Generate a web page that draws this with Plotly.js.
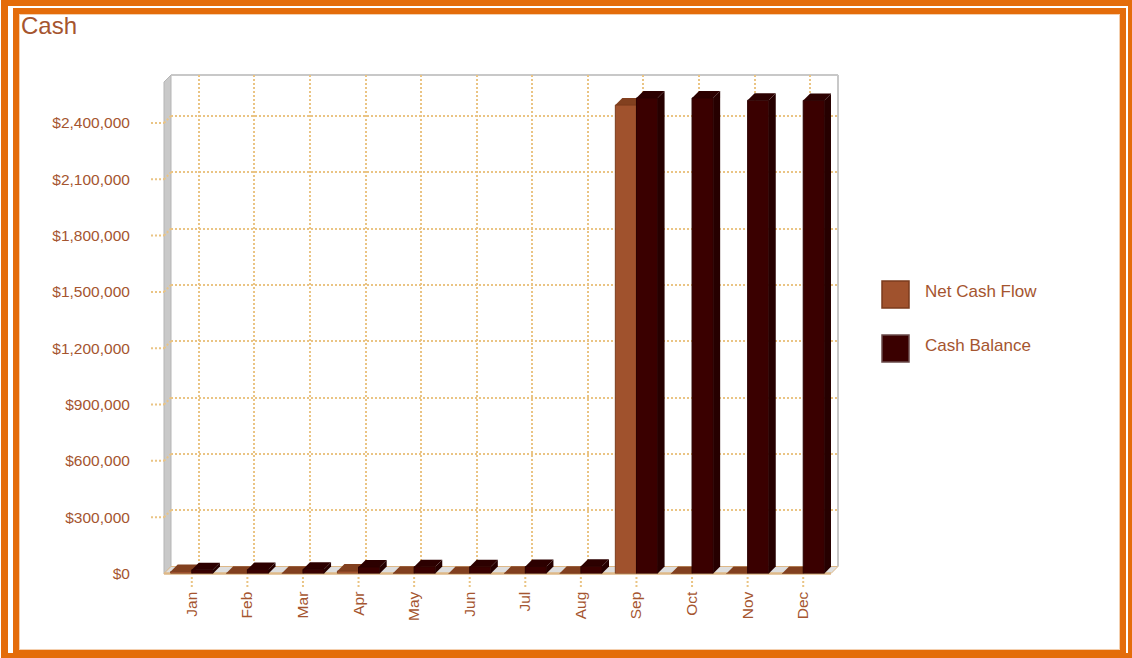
<!DOCTYPE html>
<html>
<head>
<meta charset="utf-8">
<script src="https://cdn.plot.ly/plotly-3.0.1.min.js"></script>
<style>
  html, body { margin: 0; padding: 0; background: #fff; }
  #wrap { position: relative; width: 1132px; height: 658px; overflow: hidden; }
  #chart { position: absolute; left: 0; top: 0; width: 1132px; height: 658px; }
  .frame { position: absolute; box-sizing: border-box; border-style: solid; border-color: #e46c0a; pointer-events: none; }
  #outer { left: 1px; top: 0; width: 1131px; height: 658px; border-width: 6px 4px 5px 7px; }
  #inner { left: 13px; top: 8px; width: 1113px; height: 648px; border-width: 6px; box-shadow: inset 0 0 0 1px #f4cfae; }
</style>
</head>
<body>
<div id="wrap">
  <div id="chart"></div>
  <div id="outer" class="frame"></div>
  <div id="inner" class="frame"></div>
</div>
<script>
// ---- chart data ----
const months = ['Jan', 'Feb', 'Mar', 'Apr', 'May', 'Jun', 'Jul', 'Aug', 'Sep', 'Oct', 'Nov', 'Dec'];
const netCashFlow = [10000, 1000, 1000, 13000, 1000, 0, 1000, 1000, 2495000, 0, -12000, -1000];
const cashBalance = [20000, 21000, 22000, 35000, 36000, 36000, 37000, 38000, 2533000, 2533000, 2521000, 2520000];
const yTickValues = [0, 300000, 600000, 900000, 1200000, 1500000, 1800000, 2100000, 2400000];
const yTickLabels = yTickValues.map(v => '$' + v.toLocaleString('en-US'));
const seriesNames = ['Net Cash Flow', 'Cash Balance'];
const chartTitle = 'Cash';

// ---- geometry of the pseudo-3D box (pixels) ----
const W = 1132, H = 658;
const front = { l: 164, r: 831, t: 82, b: 573.5 };
const depth = 7;
const back = { l: front.l + depth, r: front.r + depth, t: front.t - depth, b: front.b - depth };
const yMax = 2618000;
const px = x => x / W;
const py = y => 1 - y / H;
const dx = depth / ((front.r - front.l) / months.length);   // depth in category units
const dy = depth / (front.b - front.t) * yMax;               // depth in value units
const barW = 0.38;

const textColor = '#a5552f';
const gridColor = 'rgb(234,196,132)';
const gridDash = '2px,2px';
const tan = 'rgb(222,184,135)';
const font = 'Liberation Sans, Arial, sans-serif';

const colors = {
  net:  { front: '#a0522d', edge: '#7b3b1c', top: '#82401f', side: '#6e3518' },
  bal:  { front: '#3a0000', edge: '#2a0000', top: '#2c0000', side: '#260000' }
};

const shapes = [];

// left wall
shapes.push({
  type: 'path', xref: 'paper', yref: 'paper', layer: 'below',
  path: `M${px(front.l)},${py(front.b)} L${px(front.l)},${py(front.t)} L${px(back.l)},${py(back.t)} L${px(back.l)},${py(back.b)} Z`,
  fillcolor: '#c9c9c9', line: { color: '#b5b5b5', width: 1 }
});
// floor
shapes.push({
  type: 'path', xref: 'paper', yref: 'paper', layer: 'below',
  path: `M${px(front.l)},${py(front.b)} L${px(back.l)},${py(back.b)} L${px(back.r)},${py(back.b)} L${px(front.r)},${py(front.b)} Z`,
  fillcolor: '#dedede', line: { color: tan, width: 1 }
});
shapes.push({
  type: 'line', xref: 'paper', yref: 'paper', layer: 'below',
  x0: px(front.l), x1: px(front.r), y0: py(front.b), y1: py(front.b),
  line: { color: tan, width: 2.5 }
});
// back wall frame
shapes.push({
  type: 'line', xref: 'paper', yref: 'paper', layer: 'below',
  x0: px(back.l), x1: px(back.r), y0: py(back.t), y1: py(back.t),
  line: { color: '#c8c8c8', width: 2 }
});
shapes.push({
  type: 'line', xref: 'paper', yref: 'paper', layer: 'below',
  x0: px(back.r), x1: px(back.r), y0: py(back.t), y1: py(back.b),
  line: { color: '#c8c8c8', width: 2 }
});

// dotted leaders from the value labels to the back-wall gridlines
yTickValues.filter(t => t > 0).forEach(t => {
  shapes.push({
    type: 'line', xref: 'paper', yref: 'y2', layer: 'below',
    x0: px(151), x1: px(front.l), y0: t, y1: t,
    line: { color: gridColor, width: 2, dash: gridDash }
  });
  shapes.push({
    type: 'line', xref: 'paper', yref: 'y2', layer: 'below',
    x0: px(front.l), x1: px(back.l), y0: t, y1: t + dy,
    line: { color: gridColor, width: 2, dash: gridDash }
  });
});
// dotted stubs under the floor at each month
months.forEach((m, i) => {
  shapes.push({
    type: 'line', xref: 'x2', yref: 'paper', layer: 'below',
    x0: i, x1: i, y0: py(577), y1: py(587),
    line: { color: gridColor, width: 2, dash: gridDash }
  });
});

// top and side faces of every bar
function addFaces(values, offset, c) {
  values.forEach((v, i) => {
    const h = Math.max(v, 0);
    const x0 = i + offset, x1 = x0 + barW;
    shapes.push({
      type: 'path', xref: 'x2', yref: 'y2', layer: 'below',
      path: `M${x0},${h} L${x0 + dx},${h + dy} L${x1 + dx},${h + dy} L${x1},${h} Z`,
      fillcolor: c.top, line: { width: 0 }
    });
    shapes.push({
      type: 'path', xref: 'x2', yref: 'y2', layer: 'below',
      path: `M${x1},0 L${x1},${h} L${x1 + dx},${h + dy} L${x1 + dx},${dy} Z`,
      fillcolor: c.side, line: { width: 0 }
    });
  });
}
addFaces(netCashFlow, -barW, colors.net);
addFaces(cashBalance, 0, colors.bal);

// legend swatches
const legendRows = [
  { name: seriesNames[0], c: colors.net, y0: 281, y1: 308, edge: '#7b3b1c' },
  { name: seriesNames[1], c: colors.bal, y0: 335, y1: 362, edge: '#6a4a4a' }
];
const annotations = [];
legendRows.forEach(r => {
  shapes.push({
    type: 'rect', xref: 'paper', yref: 'paper',
    x0: px(882), x1: px(909), y0: py(r.y1), y1: py(r.y0),
    fillcolor: r.c.front, line: { color: r.edge, width: 1.5 }
  });
  annotations.push({
    xref: 'paper', yref: 'paper', x: px(923), y: py((r.y0 + r.y1) / 2 - 3),
    xanchor: 'left', yanchor: 'middle', showarrow: false,
    text: r.name, font: { family: font, size: 17, color: textColor }
  });
});

const traces = [
  // carries the back-wall grid subplot; draws nothing
  {
    type: 'scatter', mode: 'none', x: months.map((m, i) => i), y: cashBalance,
    xaxis: 'x', yaxis: 'y', hoverinfo: 'skip', showlegend: false
  },
  {
    type: 'bar', name: seriesNames[0], x: months, y: netCashFlow,
    xaxis: 'x2', yaxis: 'y2', width: barW, offset: -barW,
    marker: { color: colors.net.front, line: { color: colors.net.edge, width: 1 } },
    hoverinfo: 'skip'
  },
  {
    type: 'bar', name: seriesNames[1], x: months, y: cashBalance,
    xaxis: 'x2', yaxis: 'y2', width: barW, offset: 0,
    marker: { color: colors.bal.front, line: { color: colors.bal.edge, width: 1 } },
    hoverinfo: 'skip'
  }
];

const layout = {
  width: W, height: H,
  margin: { l: 0, r: 0, t: 0, b: 0 },
  paper_bgcolor: 'rgba(0,0,0,0)',
  plot_bgcolor: 'rgba(0,0,0,0)',
  showlegend: false,
  barmode: 'overlay',
  title: {
    text: chartTitle, xref: 'container', yref: 'container',
    x: px(21), xanchor: 'left', y: py(26), yanchor: 'middle',
    font: { family: font, size: 24, color: textColor }
  },
  // back wall: gridlines only
  xaxis: {
    domain: [px(back.l), px(back.r)], anchor: 'y',
    range: [-0.5, months.length - 0.5],
    tickvals: months.map((m, i) => i), showticklabels: false, ticks: '',
    showgrid: true, gridcolor: gridColor, griddash: gridDash, gridwidth: 2,
    zeroline: false, showline: false, fixedrange: true
  },
  yaxis: {
    domain: [py(back.b), py(back.t)], anchor: 'x',
    range: [0, yMax],
    tickvals: yTickValues.filter(t => t > 0), showticklabels: false, ticks: '',
    showgrid: true, gridcolor: gridColor, griddash: gridDash, gridwidth: 2,
    zeroline: false, showline: false, fixedrange: true
  },
  // front plane: bars and labels
  xaxis2: {
    domain: [px(front.l), px(front.r)], anchor: 'y2',
    type: 'category', categoryorder: 'array', categoryarray: months,
    range: [-0.5, months.length - 0.5],
    tickangle: -90, ticks: 'outside', ticklen: 11, tickcolor: 'rgba(0,0,0,0)',
    tickfont: { family: font, size: 15.5, color: textColor },
    showgrid: false, zeroline: false, showline: false, fixedrange: true
  },
  yaxis2: {
    domain: [py(front.b), py(front.t)], anchor: 'x2',
    range: [0, yMax],
    tickmode: 'array', tickvals: yTickValues, ticktext: yTickLabels,
    ticks: 'outside', ticklen: 30, tickcolor: 'rgba(0,0,0,0)',
    tickfont: { family: font, size: 15.5, color: textColor },
    showgrid: false, zeroline: false, showline: false, fixedrange: true
  },
  shapes: shapes,
  annotations: annotations
};

Plotly.newPlot('chart', traces, layout, { staticPlot: true, displayModeBar: false });
</script>
</body>
</html>
